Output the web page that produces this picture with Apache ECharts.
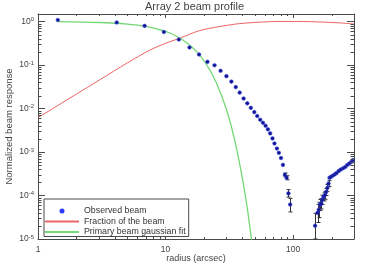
<!DOCTYPE html>
<html>
<head>
<meta charset="utf-8">
<script src="https://cdn.jsdelivr.net/npm/echarts@6/dist/echarts.min.js"></script>
<style>
html,body{margin:0;padding:0;background:#fff;}
#chart{width:374px;height:264px;}
</style>
</head>
<body>
<div id="chart"></div>
<script>
// ---- data ----
const obsX = [1.43,4.14,6.85,9.70,12.7,15.4,18.3,21.3,24.2,27.0,30.0,32.8,35.5,38.1,40.9,43.7,46.6,49.6,52.3,55.2,58.0,60.8,63.4,66.1,68.9,71.4,74.6,77.3,80.3,83.2,86.1,88.9,91.9,94.8,
  148.6,155.3,158.8,162.5,166.4,169.1,173.1,176.9,181.2,185.4,189.4,192.8,197.1,203.6,211.8,218.8,227.6,236.2,246.6,256.3,265.6,275.4,285.6,294.3];
const obsY = [1.09,0.96,0.80,0.578,0.388,0.255,0.176,0.119,0.099,0.074,0.0557,0.0418,0.0312,0.0233,0.0171,0.0132,0.0104,0.0083,0.00674,0.00554,0.00472,0.00403,0.00333,0.00269,0.00206,0.00158,0.00121,0.00096,0.00073,0.000506,0.0003,0.000256,0.000112,0.000062,
  2.02e-5,3.98e-5,4.72e-5,6.16e-5,6.5e-5,7.96e-5,9.33e-5,1.01e-4,1.2e-4,1.5e-4,1.88e-4,2.56e-4,2.66e-4,2.85e-4,3.06e-4,3.29e-4,3.66e-4,3.96e-4,4.25e-4,4.55e-4,5.03e-4,5.46e-4,5.9e-4,6.57e-4];
const errX  = [86.1,88.9,91.9,94.8,148.6,155.3,158.8,162.5,166.4,169.1,173.1,176.9,181.2,185.4,189.4];
const errLo = [2.7e-4,2.3e-4,9.2e-5,4.2e-5,1.0e-5,2.4e-5,3.1e-5,4.5e-5,4.9e-5,6.2e-5,7.5e-5,8.2e-5,1.0e-4,1.25e-4,1.6e-4];
const errHi = [3.3e-4,2.85e-4,1.37e-4,8.6e-5,3.9e-5,6.3e-5,7.0e-5,8.1e-5,8.6e-5,1.02e-4,1.15e-4,1.25e-4,1.45e-4,1.8e-4,2.2e-4];
const fracX = [1,3.05,5,7.5,9.8,12.9,18.4,26.4,37.8,54,77.6,111,159,228,300];
const fracY = [0.0062,0.046,0.112,0.22,0.31,0.416,0.62,0.77,0.90,0.97,1.01,1.01,0.985,0.94,0.885];
const fitX = [1.43,3,5,7,10,12,15,18,21,25,30,35,40,44,48];
const fitY = [1.0,0.955,0.88,0.776,0.596,0.474,0.312,0.187,0.102,0.0394,0.0095,0.00177,0.00025,4.5e-5,6.6e-6];
const seriesNames = ['Observed beam','Fraction of the beam','Primary beam gaussian fit'];
const titleText = 'Array 2 beam profile';
const xName = 'radius (arcsec)';
const yName = 'Normalized beam response';

// ---- chart ----
const X_MIN = 1, X_MAX = 300, Y_MIN = 1e-5, Y_MAX = 1.5;
const FONT = 'Liberation Sans, Arial, sans-serif';
const AX = '#4a4a4a';
const TXT = '#444';

function isPow10(v){ const e = Math.round(Math.log10(v)); return Math.abs(v/Math.pow(10,e)-1) < 1e-6; }

// minor tick values (2..9 x 10^k) inside axis ranges
const minor = [];
for (let k = 0; k <= 2; k++) for (let m = 2; m <= 9; m++) { const v = m*Math.pow(10,k); if (v < X_MAX) minor.push([v, 1, 0]); }
for (let k = -5; k <= 0; k++) for (let m = 2; m <= 9; m++) { const v = m*Math.pow(10,k); if (v < Y_MAX) minor.push([1, v, 1]); }

const chart = echarts.init(document.getElementById('chart'), null, {renderer:'canvas'});

function baseAxis(type){
  return {
    type:'log', logBase:10,
    min: type==='x'?X_MIN:Y_MIN, max: type==='x'?X_MAX:Y_MAX,
    axisLine:{show:true, lineStyle:{color:AX, width:1}},
    axisTick:{show:true, inside:true, length: type==='x'?4:7, lineStyle:{color:AX, width:1}},
    splitLine:{show:false},
    minorTick:{show:false},
    minorSplitLine:{show:false}
  };
}

const xBottom = Object.assign(baseAxis('x'), {
  position:'bottom',
  name:xName, nameLocation:'middle', nameGap:15, nameMoveOverlap:false,
  nameTextStyle:{fontFamily:FONT, fontSize:9, color:TXT},
  axisLabel:{show:true, margin:6, fontFamily:FONT, fontSize:8.5, color:TXT,
    showMinLabel:true, showMaxLabel:true,
    formatter:function(v){ return isPow10(v) ? String(Math.round(v)) : ''; }}
});
const xTop = Object.assign(baseAxis('x'), {position:'top', axisLabel:{show:false}});
const yLeft = Object.assign(baseAxis('y'), {
  position:'left',
  name:yName, nameLocation:'middle', nameGap:23.5, nameMoveOverlap:false,
  nameTextStyle:{fontFamily:FONT, fontSize:9.5, color:TXT},
  axisLabel:{show:true, margin:4, showMinLabel:true, showMaxLabel:true,
    formatter:function(v){
      if (!isPow10(v)) return '';
      const e = Math.round(Math.log10(v));
      return '{b|10}{s|' + e + '}';
    },
    rich:{
      b:{fontFamily:FONT, fontSize:8.5, color:TXT, lineHeight:10},
      s:{fontFamily:FONT, fontSize:6, color:TXT, verticalAlign:'top', lineHeight:10}
    }}
});
const yRight = Object.assign(baseAxis('y'), {position:'right', axisLabel:{show:false}});

const option = {
  animation:false,
  backgroundColor:'#ffffff',
  title:{text:titleText, left:145, top:1, padding:0,
    textStyle:{fontFamily:FONT, fontSize:11, fontWeight:'normal', color:TXT}},
  grid:{left:38, top:14, width:316, height:225, containLabel:false, outerBoundsMode:'none'},
  legend:{
    orient:'vertical', left:44, top:199, padding:[7.5,3,0,0],
    itemWidth:34, itemHeight:5, itemGap:1.5,
    borderColor:AX, borderWidth:1, borderRadius:0, backgroundColor:'#fff',
    selectedMode:false,
    textStyle:{fontFamily:FONT, fontSize:8.8, color:'#333', lineHeight:7},
    data:[
      {name:seriesNames[0], icon:'circle', itemStyle:{color:'#2a3aff', borderWidth:0}},
      {name:seriesNames[1], itemStyle:{opacity:0}},
      {name:seriesNames[2], itemStyle:{opacity:0}, lineStyle:{width:2}}
    ]
  },
  xAxis:[xBottom, xTop],
  yAxis:[yLeft, yRight],
  series:[
    {
      type:'line', name:seriesNames[1], xAxisIndex:0, yAxisIndex:0,
      data: fracX.map((x,i)=>[x, fracY[i]]),
      symbol:'none', smooth:0.3,
      lineStyle:{color:'#ee6464', width:1}, itemStyle:{color:'#ee6464'}, z:2
    },
    {
      type:'line', name:seriesNames[2], xAxisIndex:0, yAxisIndex:0,
      data: fitX.map((x,i)=>[x, fitY[i]]),
      symbol:'none', smooth:0.3,
      lineStyle:{color:'#74d874', width:1.3}, itemStyle:{color:'#74d874'}, z:2
    },
    {
      type:'custom', name:'errors', xAxisIndex:0, yAxisIndex:0,
      data: errX.map((x,i)=>[x, errLo[i], errHi[i]]),
      encode:{x:0, y:[1,2]}, silent:true, z:3,
      renderItem:function(params, api){
        const x = api.value(0);
        const lo = api.coord([x, api.value(1)]);
        const hi = api.coord([x, api.value(2)]);
        const px = Math.round(lo[0]) + 0.5;
        const st = {stroke:'#333', lineWidth:1};
        return {type:'group', children:[
          {type:'line', shape:{x1:px, y1:lo[1], x2:px, y2:hi[1]}, style:st},
          {type:'line', shape:{x1:px-2, y1:lo[1], x2:px+2, y2:lo[1]}, style:st},
          {type:'line', shape:{x1:px-2, y1:hi[1], x2:px+2, y2:hi[1]}, style:st}
        ]};
      }
    },
    {
      type:'scatter', name:seriesNames[0], xAxisIndex:0, yAxisIndex:0,
      data: obsX.map((x,i)=>[x, obsY[i]]),
      symbol:'circle', symbolSize:3.6,
      itemStyle:{color:'#14148a', borderColor:'#3040e0', borderWidth:0.6, opacity:1}, z:5
    },
    {
      type:'custom', name:'minorTicks', xAxisIndex:0, yAxisIndex:0,
      data: minor, encode:{x:0, y:1}, silent:true, z:6,
      renderItem:function(params, api){
        const kind = api.value(2);
        const st = {stroke:AX, lineWidth:1};
        if (kind === 0) {
          const v = api.value(0);
          const b = api.coord([v, Y_MIN]);
          const t = api.coord([v, Y_MAX]);
          const px = Math.round(b[0]) + 0.5;
          return {type:'group', children:[
            {type:'line', shape:{x1:px, y1:b[1], x2:px, y2:b[1]-2}, style:st},
            {type:'line', shape:{x1:px, y1:t[1], x2:px, y2:t[1]+2}, style:st}
          ]};
        } else {
          const v = api.value(1);
          const l = api.coord([X_MIN, v]);
          const r = api.coord([X_MAX, v]);
          const py = Math.round(l[1]) + 0.5;
          return {type:'group', children:[
            {type:'line', shape:{x1:l[0], y1:py, x2:l[0]+3.5, y2:py}, style:st},
            {type:'line', shape:{x1:r[0], y1:py, x2:r[0]-3.5, y2:py}, style:st}
          ]};
        }
      }
    }
  ]
};
chart.setOption(option);
</script>
</body>
</html>
